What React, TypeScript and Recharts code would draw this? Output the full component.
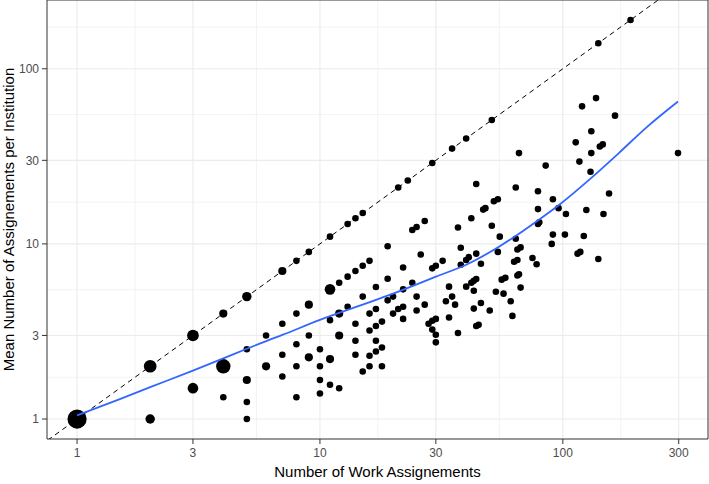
import {
  ScatterChart,
  Scatter,
  XAxis,
  YAxis,
  ZAxis,
  CartesianGrid,
  ReferenceLine,
  ReferenceArea,
  Label,
} from "recharts"

// [work assignments, mean assignments per institution, overlapping institutions]
type Pt = [number, number, number]

const onDiagonal: Pt[] = [
  [1, 1, 15], [2, 2, 6], [3, 3, 5], [4, 4, 2], [5, 5, 3], [7, 7, 2], [8, 8, 1], [9, 9, 1],
  [11, 11, 1], [13, 13, 1], [14, 14, 1], [15, 15, 1], [21, 21, 1], [23, 23, 1], [29, 29, 1],
  [35, 35, 1], [40, 40, 1], [51, 51, 1], [140, 140, 1], [190, 190, 1],
]

const fewAssignments: Pt[] = [
  [2, 1, 3], [3, 1.5, 4], [4, 2, 8], [4, 1.33, 1], [5, 2.5, 1], [5, 1.67, 2], [5, 1.25, 1],
  [5, 1, 1], [6, 2, 2], [6, 3, 1], [7, 3.5, 1], [7, 2.33, 1], [7, 1.75, 1], [8, 4, 1],
  [8, 2.67, 1], [8, 2, 1], [8, 1.33, 1], [9, 4.5, 2], [9, 3, 1], [9, 2.25, 2], [10, 2.5, 1],
  [10, 2, 1], [10, 1.67, 1], [10, 1.4, 1],
]

const someAssignments: Pt[] = [
  [11, 5.5, 4], [11, 3.67, 1], [11, 2.2, 2], [11, 1.57, 1], [12, 6, 1], [12, 4, 2], [12, 3, 2],
  [12, 1.5, 1], [13, 6.5, 1], [13, 4.38, 1], [14, 7, 1], [14, 3.5, 1], [14, 2.8, 1],
  [14, 2.33, 1], [15, 7.5, 1], [15, 5, 1], [15, 1.87, 1], [16, 8, 1], [16, 4, 1], [16, 3.2, 1],
  [16, 2.3, 1], [16, 2, 1], [17, 5.67, 1], [17, 4.25, 1], [17, 3.4, 1], [17, 2.8, 1],
  [17, 2.43, 1], [18, 3.6, 1], [18, 2.56, 1], [18, 2, 1], [19, 9.7, 1], [19, 6.33, 1],
  [19, 4.76, 1], [20, 5, 1], [20, 4, 1], [21, 4.25, 1], [22, 7.33, 1], [22, 5.5, 1],
  [22, 4.38, 1], [22, 3.73, 1], [24, 12, 1], [24, 6, 1], [25, 12.5, 1], [25, 5, 1],
  [25, 4.17, 1], [26, 8.7, 1], [27, 13.5, 1], [27, 4.5, 1], [28, 3.5, 1], [29, 7.25, 1],
  [29, 3.64, 1], [29, 3.24, 1], [30, 7.5, 1], [30, 3.73, 1], [30, 3.03, 1], [30, 2.74, 1],
]

const manyAssignments: Pt[] = [
  [32, 8, 1], [33, 4.7, 1], [34, 5.7, 1], [34, 3.8, 1], [35, 5, 1], [36, 4.5, 1], [37, 12.4, 1],
  [37, 3.1, 1], [38, 9.5, 1], [38, 7.6, 1], [40, 8.1, 1], [41, 8.4, 1], [40, 5.7, 1],
  [42, 14, 1], [42, 6, 1], [43, 6.15, 1], [44, 6.3, 1], [43, 5.4, 1], [43, 4.27, 1],
  [44, 22, 1], [44, 8.8, 1], [44, 3.4, 1], [45, 3.45, 1], [46, 7.7, 1], [46, 4.6, 1],
  [47, 15.7, 1], [48, 16, 1], [50, 4.17, 1], [51, 12.7, 1], [52, 17.5, 1], [53, 5.33, 1],
  [54, 18, 1], [54, 9, 1], [55, 11, 1], [56, 6.25, 1], [57, 5.2, 1], [58, 6.4, 1],
  [61, 4.7, 1], [62, 3.88, 1], [63, 7.9, 1], [64, 21, 1], [64, 10.7, 1], [65, 9.3, 1],
  [65, 8.1, 1], [65, 6.6, 1], [66, 33, 1], [66, 6.7, 1], [67, 9.55, 1], [67, 5.63, 1],
  [75, 8.3, 1], [78, 7.66, 1], [79, 20, 1], [79, 15.8, 1], [79, 13, 1], [80, 13.3, 1],
  [85, 28, 1], [90, 10, 1], [91, 18, 1], [91, 11.3, 1], [96, 16, 1], [102, 11.3, 1],
  [103, 14.8, 1], [113, 38, 1], [115, 8.8, 1], [117, 29.5, 1], [118, 9, 1], [120, 61, 1],
  [122, 11.1, 1], [125, 15.6, 1], [130, 25.8, 1], [131, 44, 1], [131, 33, 1], [137, 68, 1],
  [140, 8.2, 1], [142, 36, 1], [146, 37, 1], [147, 14.8, 1], [155, 19.4, 1], [164, 54, 1],
  [298, 33, 1],
]

// loess trend
const smoothX = [1, 1.5, 2, 3, 4, 5, 7, 10, 15, 20, 30, 40, 55, 80, 97, 130, 170, 220, 298]
const smoothY = [1.05, 1.3, 1.52, 1.89, 2.22, 2.52, 3.02, 3.68, 4.5, 5.2, 6.5, 7.6, 9.7, 13.8, 16.8, 23.6, 33, 46, 65]

const xTicks = [1, 3, 10, 30, 100, 300]
const yTicks = [1, 3, 10, 30, 100]
const minorBreaks = [1.732, 5.477, 17.32, 54.77, 173.2]

const xDomain: [number, number] = [0.752, 396]
const yDomain: [number, number] = [0.769, 247]

const FONT = "'Liberation Sans', Arial, Helvetica, sans-serif"

export default function App() {
  const points = [...onDiagonal, ...fewAssignments, ...someAssignments, ...manyAssignments].map(
    ([x, y, n]) => ({ x, y, n })
  )
  const smooth = smoothX.map((x, i) => ({ x, y: smoothY[i] }))

  return (
    <div style={{ position: "absolute", left: 0, top: 0, background: "#fff" }}>
      <ScatterChart
        width={709}
        height={484}
        margin={{ top: 0, right: 1, bottom: 0, left: 0 }}
        style={{ fontFamily: FONT }}
      >
        <CartesianGrid
          verticalValues={minorBreaks}
          horizontalValues={minorBreaks}
          stroke="#ebebeb"
          strokeWidth={0.6}
        />
        <CartesianGrid
          verticalValues={xTicks}
          horizontalValues={yTicks}
          stroke="#ebebeb"
          strokeWidth={1.1}
        />
        <XAxis
          type="number"
          dataKey="x"
          scale="log"
          domain={xDomain}
          allowDataOverflow
          ticks={xTicks}
          interval={0}
          height={45}
          tickSize={5}
          tickMargin={4}
          axisLine={false}
          tickLine={{ stroke: "#333333" }}
          tick={{ fill: "#4d4d4d", fontSize: 12 }}
        >
          <Label
            content={({ viewBox }: any) => (
              <text
                x={viewBox.x + viewBox.width / 2}
                y={viewBox.y + 38}
                textAnchor="middle"
                fontSize={15}
                fill="#000"
                fontFamily={FONT}
              >
                Number of Work Assignements
              </text>
            )}
          />
        </XAxis>
        <YAxis
          type="number"
          dataKey="y"
          scale="log"
          domain={yDomain}
          allowDataOverflow
          ticks={yTicks}
          interval={0}
          width={47}
          tickSize={5}
          tickMargin={3}
          axisLine={false}
          tickLine={{ stroke: "#333333" }}
          tick={{ fill: "#4d4d4d", fontSize: 12 }}
        >
          <Label
            content={({ viewBox }: any) => {
              const cx = viewBox.x + 13.5
              const cy = viewBox.y + viewBox.height / 2
              return (
                <text
                  x={cx}
                  y={cy}
                  transform={`rotate(-90, ${cx}, ${cy})`}
                  textAnchor="middle"
                  fontSize={15}
                  fill="#000"
                  fontFamily={FONT}
                >
                  Mean Number of Assignements per Institution
                </text>
              )
            }}
          />
        </YAxis>
        <ZAxis type="number" dataKey="n" domain={[1, 15]} range={[34, 290]} />
        <Scatter data={points} fill="#000000" isAnimationActive={false} />
        <ReferenceLine
          segment={[
            { x: 0.5, y: 0.5 },
            { x: 500, y: 500 },
          ]}
          ifOverflow="hidden"
          stroke="#000000"
          strokeWidth={1}
          strokeDasharray="5 4"
        />
        <Scatter
          data={smooth}
          line={{ stroke: "#3366ff", strokeWidth: 1.8 }}
          lineJointType="monotoneX"
          shape={() => <g />}
          isAnimationActive={false}
        />
        <ReferenceArea
          x1={xDomain[0]}
          x2={xDomain[1]}
          y1={yDomain[0]}
          y2={yDomain[1]}
          fill="none"
          stroke="#333333"
          strokeWidth={1}
          ifOverflow="visible"
        />
      </ScatterChart>
    </div>
  )
}
